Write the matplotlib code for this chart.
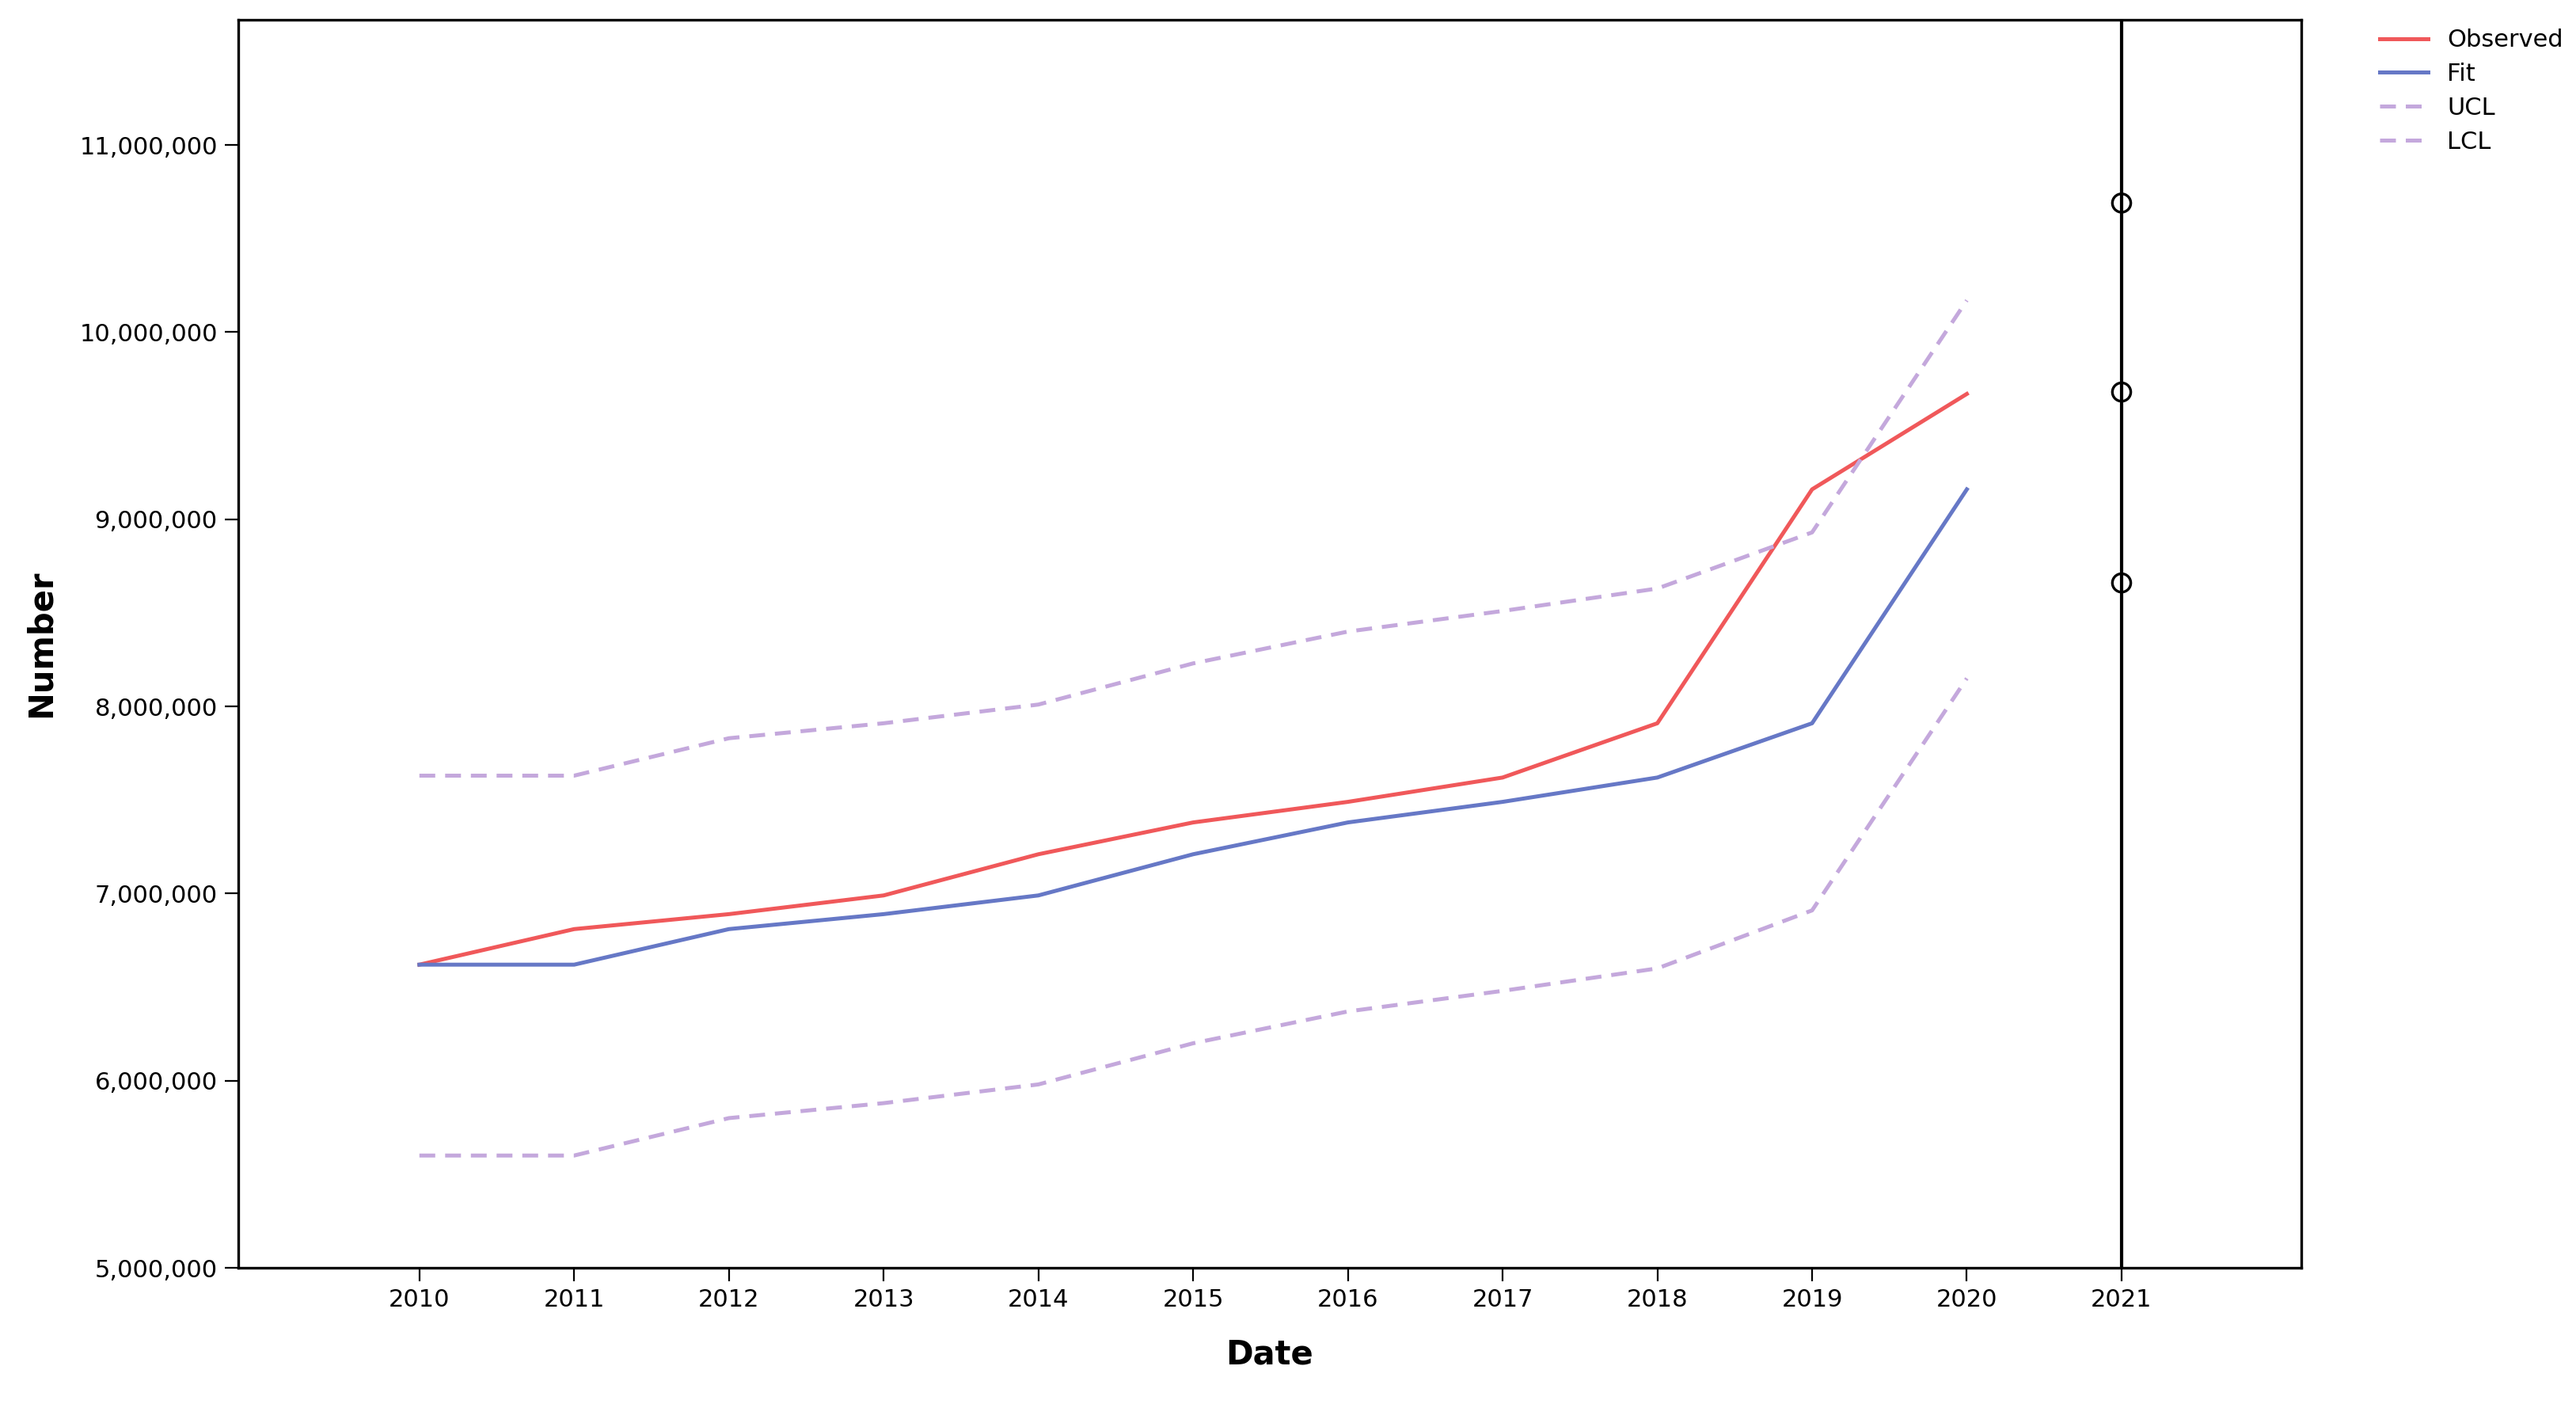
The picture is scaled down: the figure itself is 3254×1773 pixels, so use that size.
import matplotlib.pyplot as plt
from matplotlib.ticker import FuncFormatter

years = [2010, 2011, 2012, 2013, 2014, 2015, 2016, 2017, 2018, 2019, 2020]
observed = [6.62, 6.81, 6.89, 6.99, 7.21, 7.38, 7.49, 7.62, 7.91, 9.16, 9.67]
fit = [6.62, 6.62, 6.81, 6.89, 6.99, 7.21, 7.38, 7.49, 7.62, 7.91, 9.16]
ucl = [7.63, 7.63, 7.83, 7.91, 8.01, 8.23, 8.40, 8.51, 8.63, 8.93, 10.17]
lcl = [5.60, 5.60, 5.80, 5.88, 5.98, 6.20, 6.37, 6.48, 6.60, 6.91, 8.15]
forecast_year = 2021
forecast = [10.69, 9.68, 8.66]  # upper, point, lower (millions)

fig = plt.figure(figsize=(16.275, 8.865), dpi=200)
ax = fig.add_axes([0.0925, 0.097, 0.8005, 0.889])

ax.plot(years, [v * 1e6 for v in observed], color="#f0585a", lw=1.8, label="Observed")
ax.plot(years, [v * 1e6 for v in fit], color="#6678c6", lw=1.8, label="Fit")
ax.plot(years, [v * 1e6 for v in ucl], color="#c4a8dc", lw=1.8, ls=(0, (4, 2.5)), label="UCL")
ax.plot(years, [v * 1e6 for v in lcl], color="#c4a8dc", lw=1.8, ls=(0, (4, 2.5)), label="LCL")

ax.axvline(forecast_year, color="black", lw=1.5)
ax.scatter([forecast_year] * 3, [v * 1e6 for v in forecast], s=70,
           facecolors="none", edgecolors="black", lw=1.2, zorder=3)

ax.set_xlim(2008.83, 2022.16)
ax.set_ylim(5e6, 11.67e6)
ax.set_xticks(years + [forecast_year])
ax.set_yticks([5e6, 6e6, 7e6, 8e6, 9e6, 10e6, 11e6])
ax.yaxis.set_major_formatter(FuncFormatter(lambda v, p: f"{int(v):,}"))
ax.tick_params(labelsize=11, length=6)
for s in ax.spines.values():
    s.set_linewidth(1.2)

ax.set_xlabel("Date", fontsize=15, fontweight="bold", labelpad=12)
ax.set_ylabel("Number", fontsize=15, fontweight="bold", labelpad=10)

fig.legend(loc="upper left", bbox_to_anchor=(0.915, 0.995), frameon=False,
           fontsize=11, handlelength=2, labelspacing=0.45)

fig.savefig("out.png", dpi=200, facecolor="white")
